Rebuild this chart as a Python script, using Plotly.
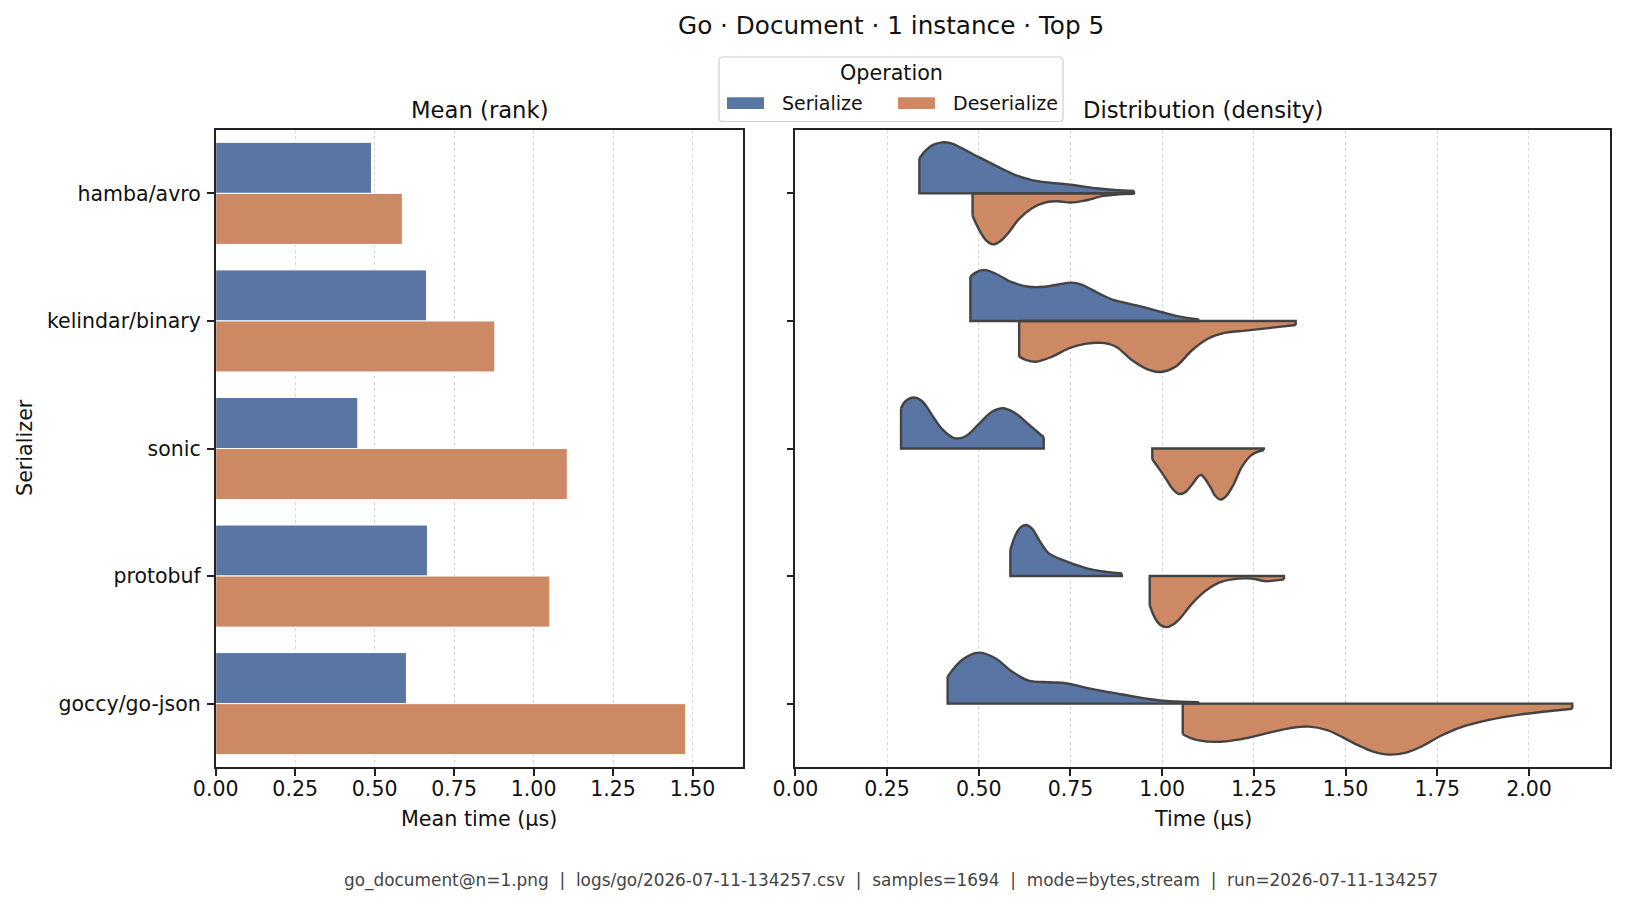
import plotly.graph_objects as go

W, H = 1626, 905

# ---------------- data ----------------
SERIALIZERS = ["hamba/avro", "kelindar/binary", "sonic", "protobuf", "goccy/go-json"]
OPERATIONS = ["Serialize", "Deserialize"]
MEAN_SER = [0.490, 0.663, 0.447, 0.666, 0.600]
MEAN_DES = [0.587, 0.878, 1.106, 1.051, 1.478]
X_TICKS_LEFT = [0.0, 0.25, 0.5, 0.75, 1.0, 1.25, 1.5]
X_TICKS_RIGHT = [0.0, 0.25, 0.5, 0.75, 1.0, 1.25, 1.5, 1.75, 2.0]

# density profiles: time (µs) and relative density (peak = 1)
HAMBA_SER_X = [0.338, 0.355, 0.375, 0.40, 0.425, 0.45, 0.50, 0.55, 0.60, 0.64, 0.68, 0.75, 0.82, 0.87, 0.923]
HAMBA_SER_D = [0.69, 0.84, 0.95, 1.00, 0.98, 0.90, 0.71, 0.53, 0.36, 0.27, 0.22, 0.17, 0.10, 0.065, 0.05]
HAMBA_DES_X = [0.483, 0.50, 0.52, 0.54, 0.56, 0.58, 0.61, 0.645, 0.68, 0.715, 0.75, 0.79, 0.84, 0.88, 0.923]
HAMBA_DES_D = [0.44, 0.70, 0.92, 1.00, 0.93, 0.78, 0.50, 0.29, 0.18, 0.155, 0.18, 0.14, 0.05, 0.02, 0.01]

KELINDAR_SER_X = [0.477, 0.495, 0.515, 0.545, 0.59, 0.636, 0.68, 0.72, 0.752, 0.78, 0.827, 0.864, 0.909, 0.955, 1.0, 1.045, 1.1]
KELINDAR_SER_D = [0.87, 0.96, 1.00, 0.93, 0.76, 0.67, 0.67, 0.72, 0.75, 0.71, 0.54, 0.42, 0.34, 0.26, 0.17, 0.09, 0.03]
KELINDAR_DES_X = [0.61, 0.63, 0.655, 0.70, 0.745, 0.79, 0.836, 0.873, 0.918, 0.964, 0.997, 1.036, 1.082, 1.127, 1.173, 1.227, 1.29, 1.364]
KELINDAR_DES_D = [0.70, 0.77, 0.80, 0.70, 0.54, 0.45, 0.43, 0.50, 0.77, 0.96, 1.00, 0.90, 0.57, 0.34, 0.23, 0.19, 0.14, 0.08]

SONIC_SER_X = [0.288, 0.30, 0.323, 0.345, 0.373, 0.40, 0.435, 0.464, 0.50, 0.536, 0.567, 0.60, 0.636, 0.677]
SONIC_SER_D = [0.79, 0.93, 1.00, 0.93, 0.65, 0.38, 0.20, 0.24, 0.48, 0.72, 0.79, 0.69, 0.47, 0.22]
SONIC_DES_X = [0.973, 0.99, 1.009, 1.027, 1.045, 1.062, 1.08, 1.105, 1.13, 1.145, 1.16, 1.175, 1.195, 1.218, 1.245, 1.277]
SONIC_DES_D = [0.21, 0.38, 0.58, 0.78, 0.89, 0.86, 0.72, 0.52, 0.74, 0.93, 1.00, 0.93, 0.70, 0.35, 0.12, 0.03]

PROTOBUF_SER_X = [0.586, 0.60, 0.613, 0.628, 0.645, 0.665, 0.69, 0.72, 0.76, 0.80, 0.84, 0.89]
PROTOBUF_SER_D = [0.52, 0.80, 0.95, 1.00, 0.93, 0.70, 0.45, 0.34, 0.23, 0.14, 0.09, 0.05]
PROTOBUF_DES_X = [0.966, 0.98, 0.995, 1.012, 1.03, 1.05, 1.08, 1.118, 1.155, 1.19, 1.245, 1.28, 1.305, 1.332]
PROTOBUF_DES_D = [0.57, 0.82, 0.96, 1.00, 0.95, 0.82, 0.55, 0.29, 0.13, 0.065, 0.05, 0.10, 0.09, 0.065]

GOCCY_SER_X = [0.415, 0.455, 0.50, 0.545, 0.59, 0.636, 0.692, 0.738, 0.794, 0.851, 0.907, 0.964, 1.02, 1.10]
GOCCY_SER_D = [0.53, 0.86, 1.00, 0.89, 0.63, 0.45, 0.42, 0.40, 0.31, 0.23, 0.16, 0.09, 0.045, 0.026]
GOCCY_DES_X = [1.056, 1.08, 1.10, 1.145, 1.213, 1.292, 1.35, 1.40, 1.45, 1.495, 1.535, 1.575, 1.62, 1.665, 1.71, 1.76, 1.812, 1.891, 1.97, 2.038, 2.118]
GOCCY_DES_D = [0.60, 0.68, 0.72, 0.75, 0.70, 0.57, 0.48, 0.45, 0.52, 0.67, 0.82, 0.94, 1.00, 0.96, 0.83, 0.63, 0.47, 0.32, 0.22, 0.16, 0.10]

PROFILES = [
    (HAMBA_SER_X, HAMBA_SER_D, HAMBA_DES_X, HAMBA_DES_D),
    (KELINDAR_SER_X, KELINDAR_SER_D, KELINDAR_DES_X, KELINDAR_DES_D),
    (SONIC_SER_X, SONIC_SER_D, SONIC_DES_X, SONIC_DES_D),
    (PROTOBUF_SER_X, PROTOBUF_SER_D, PROTOBUF_DES_X, PROTOBUF_DES_D),
    (GOCCY_SER_X, GOCCY_SER_D, GOCCY_DES_X, GOCCY_DES_D),
]

TITLE = "Go · Document · 1 instance · Top 5"
FOOTER = ("go_document@n=1.png\u00a0 |\u00a0 logs/go/2026-07-11-134257.csv\u00a0 |\u00a0 samples=1694"
          "\u00a0 |\u00a0 mode=bytes,stream\u00a0 |\u00a0 run=2026-07-11-134257")

# ---------------- style ----------------
SER_COLOR = "#5875a4"
DES_COLOR = "#cc8963"
EDGE = "#434343"
FONT = "DejaVu Sans"
TXT = "#111111"
HALF = 0.4


def px(x):
    return x / W


def py(y):
    return 1 - y / H


L_AX = (215.7, 742.5)
R_AX = (795.4, 1610.4)
Y_AX = (129.6, 767.4)

fig = go.Figure()

# ---------------- left: mean bars ----------------
fig.add_trace(go.Bar(
    orientation="h", y=SERIALIZERS, x=MEAN_SER, name=OPERATIONS[0],
    offset=-0.4, width=0.4, marker=dict(color=SER_COLOR, line=dict(color="white", width=1)),
    xaxis="x", yaxis="y", showlegend=False))
fig.add_trace(go.Bar(
    orientation="h", y=SERIALIZERS, x=MEAN_DES, name=OPERATIONS[1],
    offset=0.0, width=0.4, marker=dict(color=DES_COLOR, line=dict(color="white", width=1)),
    xaxis="x", yaxis="y", showlegend=False))

# ---------------- right: split density ----------------
outlines = []
for i, (sx, sd, dx, dd) in enumerate(PROFILES):
    for xs, ds, sign, color in ((sx, sd, -1, SER_COLOR), (dx, dd, 1, DES_COLOR)):
        ys = [i + sign * HALF * d for d in ds]
        fig.add_trace(go.Scatter(
            x=[xs[0], xs[-1]], y=[i, i], mode="lines",
            line=dict(color=EDGE, width=1), xaxis="x2", yaxis="y2",
            hoverinfo="skip", showlegend=False))
        fig.add_trace(go.Scatter(
            x=xs, y=ys, mode="lines", line=dict(color=color, width=0.5, shape="spline", smoothing=1),
            fill="tonexty", fillcolor=color, xaxis="x2", yaxis="y2",
            hoverinfo="skip", showlegend=False))
        outlines.append(go.Scatter(
            x=[xs[0], xs[0], xs[-1], xs[-1]], y=[ys[0], i, i, ys[-1]], mode="lines",
            line=dict(color=EDGE, width=2.4), xaxis="x2", yaxis="y2",
            hoverinfo="skip", showlegend=False))
        outlines.append(go.Scatter(
            x=xs, y=ys, mode="lines", line=dict(color=EDGE, width=2.4, shape="spline", smoothing=1),
            xaxis="x2", yaxis="y2", hoverinfo="skip", showlegend=False))
for t in outlines:
    fig.add_trace(t)

# ---------------- axes ----------------
axis_common = dict(
    showline=True, mirror=True, linecolor="#222222", linewidth=1.6,
    ticks="outside", ticklen=7, tickwidth=1.5, tickcolor="#222222",
    tickfont=dict(family=FONT, size=20.5, color=TXT), zeroline=False, automargin=False,
)
fig.update_layout(
    xaxis=dict(domain=[px(L_AX[0]), px(L_AX[1])], range=[0, 1.657], anchor="y",
               tickvals=X_TICKS_LEFT, tickformat=".2f", ticklabelstandoff=-5,
               showgrid=True, gridcolor="#d8d8d8", griddash="dot", gridwidth=1, **axis_common),
    yaxis=dict(domain=[py(Y_AX[1]), py(Y_AX[0])], type="category", categoryorder="array",
               categoryarray=SERIALIZERS, range=[4.5, -0.5], autorange=False, anchor="x",
               ticklabelstandoff=2, showgrid=False, **axis_common),
    xaxis2=dict(domain=[px(R_AX[0]), px(R_AX[1])], range=[0, 2.222], anchor="y2",
                tickvals=X_TICKS_RIGHT, tickformat=".2f", ticklabelstandoff=-5,
                showgrid=True, gridcolor="#d8d8d8", griddash="dot", gridwidth=1, **axis_common),
    yaxis2=dict(domain=[py(Y_AX[1]), py(Y_AX[0])], range=[4.5, -0.5], autorange=False, anchor="x2",
                tickvals=list(range(len(SERIALIZERS))), showticklabels=False,
                showgrid=False, **axis_common),
    barmode="overlay",
    width=W, height=H, autosize=False,
    margin=dict(l=0, r=0, t=0, b=0, pad=0, autoexpand=False),
    paper_bgcolor="white", plot_bgcolor="white",
    font=dict(family=FONT, color=TXT),
    showlegend=False,
)


def ann(text, x, y, size, xanchor="center", yanchor="middle", color=TXT, angle=0):
    fig.add_annotation(text=text, x=px(x), y=py(y), xref="paper", yref="paper",
                       xanchor=xanchor, yanchor=yanchor, showarrow=False, textangle=angle,
                       font=dict(family=FONT, size=size, color=color))


ann(TITLE, 891, 25, 24.7)
ann("Mean (rank)", (L_AX[0] + L_AX[1]) / 2, 110, 22.7)
ann("Distribution (density)", (R_AX[0] + R_AX[1]) / 2, 110, 22.7)
ann("Mean time (µs)", (L_AX[0] + L_AX[1]) / 2, 819, 20.7)
ann("Time (µs)", (R_AX[0] + R_AX[1]) / 2, 819, 20.7)
ann("Serializer", 25, 448, 20.7, angle=-90)
ann(FOOTER, 891, 880, 16.9, color="#444444")

# ---------------- legend (drawn) ----------------
lx0, lx1, ly0, ly1, r = 719, 1063, 57, 121.5, 4


def rounded_path(x0, x1, y0, y1, r):
    p = [
        f"M {px(x0 + r)},{py(y0)}", f"L {px(x1 - r)},{py(y0)}", f"Q {px(x1)},{py(y0)} {px(x1)},{py(y0 + r)}",
        f"L {px(x1)},{py(y1 - r)}", f"Q {px(x1)},{py(y1)} {px(x1 - r)},{py(y1)}",
        f"L {px(x0 + r)},{py(y1)}", f"Q {px(x0)},{py(y1)} {px(x0)},{py(y1 - r)}",
        f"L {px(x0)},{py(y0 + r)}", f"Q {px(x0)},{py(y0)} {px(x0 + r)},{py(y0)}", "Z",
    ]
    return " ".join(p)


fig.add_shape(type="path", path=rounded_path(lx0, lx1, ly0, ly1, r), xref="paper", yref="paper",
              line=dict(color="#cfcfcf", width=1.2), fillcolor="rgba(255,255,255,0.85)", layer="above")
for (x0, x1), color, label, tx in (((727, 764), SER_COLOR, OPERATIONS[0], 780),
                                    ((898, 935), DES_COLOR, OPERATIONS[1], 950.5)):
    fig.add_shape(type="rect", x0=px(x0), x1=px(x1), y0=py(109), y1=py(97.3), xref="paper", yref="paper",
                  line=dict(width=0), fillcolor=color, layer="above")
    ann(label, tx, 103, 19, xanchor="left")
ann("Operation", 891, 73.5, 20.7)

fig.write_html("out.html")
